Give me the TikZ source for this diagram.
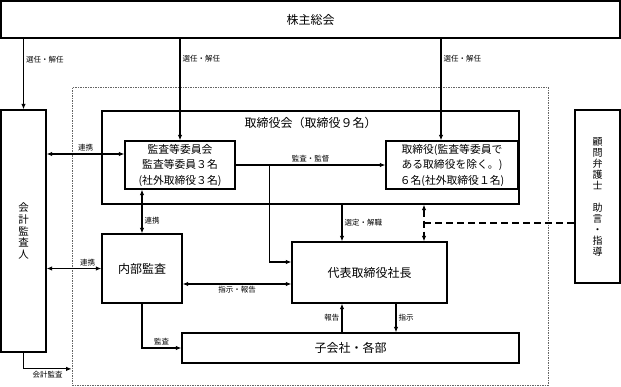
\documentclass[tikz,border=0pt]{standalone}
\usepackage{fontspec}
\setmainfont{Noto Sans CJK JP}
\usetikzlibrary{calc, positioning, arrows.meta}

\tikzset{
  box/.style={draw, line width=1.2pt, inner sep=1pt, align=center},
  bigtxt/.style={font=\fontsize{12}{15}\selectfont},
  midtxt/.style={font=\fontsize{10.8}{15.5}\selectfont},
  lbl/.style={font=\fontsize{7.5}{9}\selectfont, inner sep=2pt},
  conn/.style={line width=1.15pt},
  advdash/.style={line width=1.15pt, dash pattern=on 7pt off 4pt},
}

\begin{document}
\begin{tikzpicture}[>={Latex[length=5.5pt,width=4.5pt]}, x=1pt, y=-1pt]
    \useasboundingbox (0,0) rectangle (621,387);

    % 外枠（点線）
    \node[draw=black!60, line width=0.8pt, dash pattern=on 1.5pt off 1pt,
          minimum width=476pt, minimum height=298pt] (frame) at (310,236.5) {};

    % 各ボックス
    \node[box, bigtxt, minimum width=619pt, minimum height=37pt] (kabunushi) at (310.5,19.5) {株主総会};
    \node[box, font=\fontsize{10.5}{11.6}\selectfont, minimum width=45pt, minimum height=242pt] (kaikei) at (23.5,231) {会\\計\\監\\査\\人};
    \node[box, minimum width=417pt, minimum height=93pt] (torikai) at (310.5,157.5) {};
    \node[bigtxt, below=3pt of torikai.north] (torikaititle) {取締役会（取締役９名）};
    \node[box, midtxt, minimum width=110pt, minimum height=48pt] (kansa) at (180,165)
        {監査等委員会\\監査等委員３名\\(社外取締役３名)};
    \node[box, midtxt, minimum width=132pt, minimum height=48pt] (tori) at (452,165)
        {取締役(監査等委員で\\ある取締役を除く。)\\６名(社外取締役１名)};
    \node[box, bigtxt, minimum width=80pt, minimum height=69pt] (naibu) at (142,268.5) {内部監査};
    \node[box, bigtxt, minimum width=155pt, minimum height=61pt] (daihyo) at (369.5,272.5) {代表取締役社長};
    \node[box, bigtxt, minimum width=337pt, minimum height=30pt] (kogaisha) at (350.5,348) {子会社・各部};
    \node[box, font=\fontsize{10}{11}\selectfont, minimum width=45pt, minimum height=173pt] (komon) at (597.5,196.5)
        {顧\\問\\弁\\護\\士\\　\\助\\言\\・\\指\\導};

    % 株主総会から
    \draw[conn,->] (kabunushi.south -| kaikei.north) -- (kaikei.north) node[lbl, pos=0.3, right] {選任・解任};
    \draw[conn,->] (kabunushi.south -| kansa.north) -- (kansa.north) node[lbl, pos=0.2, right] {選任・解任};
    \coordinate (tn) at ([xshift=-11pt]tori.north);
    \draw[conn,->] (kabunushi.south -| tn) -- (tn) node[lbl, pos=0.2, right] {選任・解任};

    % 連携
    \coordinate (kw) at ([yshift=11pt]kansa.west);
    \draw[conn,<->] (kaikei.east |- kw) -- (kw) node[lbl, midway, above] {連携};
    \draw[conn,<->] (kaikei.east |- naibu.west) -- (naibu.west) node[lbl, pos=0.75, above] {連携};
    \draw[conn,<->] (kansa.south -| naibu.north) -- (naibu.north) node[lbl, pos=0.7, right] {連携};

    % 監査・監督
    \draw[conn,->] (kansa.east) -- (tori.west) node[lbl, midway, above] {監査・監督};
    \coordinate (br) at ($(kansa.east)!0.225!(tori.west)$);
    \draw[conn,->] (br) |- ([yshift=10.5pt]daihyo.west);

    % 選定・解職
    \coordinate (sx) at ([xshift=-27.5pt]daihyo.north);
    \draw[conn,->] (torikai.south -| sx) -- (sx) node[lbl, midway, right] {選定・解職};

    % 顧問弁護士
    \coordinate (ax) at ([xshift=54.5pt]daihyo.north);
    \draw[advdash,<->] (torikai.south -| ax) -- (ax);
    \coordinate (aj) at ($(ax)!0.5!(torikai.south -| ax)$);
    \draw[advdash] (aj) -- (aj -| komon.west);

    % 指示・報告
    \coordinate (ne) at ([yshift=-15.5pt]naibu.east);
    \draw[conn,<->] (ne) -- (ne -| daihyo.west) node[lbl, midway, below] {指示・報告};

    % 報告・指示
    \draw[conn,->] (kogaisha.north -| sx) -- (daihyo.south -| sx) node[lbl, midway, left] {報告};
    \coordinate (ix) at ([xshift=26.5pt]daihyo.south);
    \draw[conn,->] (ix) -- (kogaisha.north -| ix) node[lbl, midway, right] {指示};

    % 監査
    \draw[conn,->] (naibu.south) |- (kogaisha.west) node[lbl, pos=0.75, above] {監査};

    % 会計監査
    \coordinate (fa) at ([yshift=17pt]frame.south west);
    \draw[conn,->] (kaikei.south) |- (fa) node[lbl, pos=0.75, below] {会計監査};
\end{tikzpicture}
\end{document}
